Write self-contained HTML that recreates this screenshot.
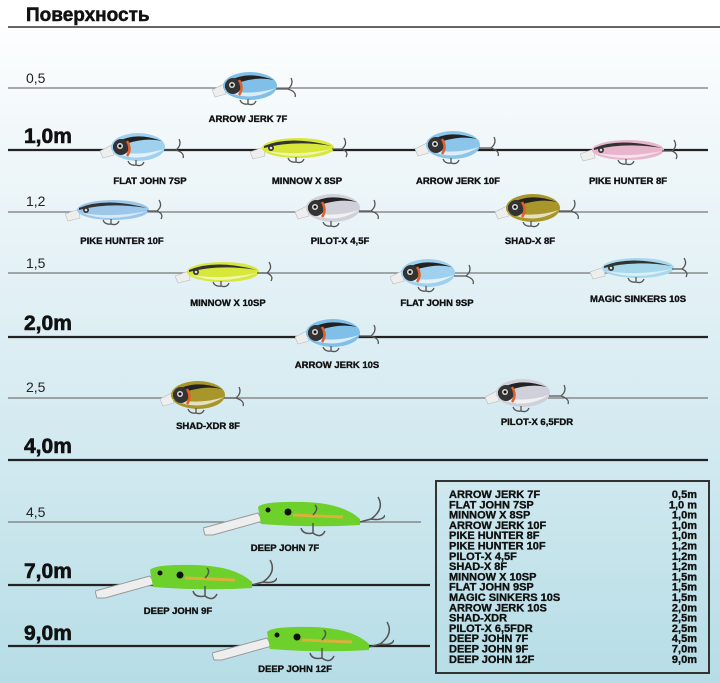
<!DOCTYPE html>
<html><head><meta charset="utf-8"><style>
html,body{margin:0;padding:0}
body{width:720px;height:683px;overflow:hidden;font-family:"Liberation Sans",sans-serif}
svg{display:block}
.lb{font:bold 9.5px "Liberation Sans",sans-serif;fill:#111;text-anchor:middle;stroke:#111;stroke-width:0.35}
.dm{font:bold 21px "Liberation Sans",sans-serif;fill:#111;stroke:#111;stroke-width:0.6}
.dn{font:14px "Liberation Sans",sans-serif;fill:#222}
.tb{font:bold 11px "Liberation Sans",sans-serif;fill:#111;stroke:#111;stroke-width:0.35}
</style></head><body>
<svg width="720" height="683" viewBox="0 0 720 683">
<defs>
<linearGradient id="bg" x1="0" y1="0" x2="0" y2="1">
<stop offset="0" stop-color="#ffffff"/><stop offset="0.25" stop-color="#eef6f9"/><stop offset="0.7" stop-color="#cfe8ef"/><stop offset="1" stop-color="#b6dde6"/>
</linearGradient>
<symbol id="crank" viewBox="0 0 90 36">
<polygon points="0,20 12,14 14,24 3,27" fill="#eee" stroke="#bbb" stroke-width="0.6"/>
<ellipse cx="38" cy="16" rx="27" ry="14" fill="currentColor"/>
<path d="M12,20 Q38,34 64,18 Q40,26 12,20 Z" fill="#fff" opacity="0.7"/>
<path d="M13,14 Q32,-1 62,10 Q40,5 13,18 Z" fill="#222"/>
<ellipse cx="21" cy="16" rx="8" ry="8" fill="#333"/>
<path d="M27,10 Q32,18 27,25" stroke="#e0602a" stroke-width="2.5" fill="none"/>
<circle cx="20" cy="15" r="3" fill="#ddd"/><circle cx="20" cy="15" r="1.5" fill="#111"/>
<path d="M64,19 L76,19 M76,19 Q82,14 79,8 M76,19 Q85,22 83,27 M36,29 L36,34 M36,34 Q30,35 28,30 M36,34 Q42,36 44,31" stroke="#555" stroke-width="1.3" fill="none"/>
</symbol>
<symbol id="minnow" viewBox="0 0 100 30">
<polygon points="0,18 14,13 15,22 3,25" fill="#eee" stroke="#bbb" stroke-width="0.6"/>
<ellipse cx="48" cy="14" rx="36" ry="10" fill="currentColor"/>
<path d="M16,17 Q48,28 82,15 Q48,22 16,17 Z" fill="#fff" opacity="0.6"/>
<path d="M14,12 Q40,1 82,12 Q45,6 14,14 Z" fill="#333"/>
<circle cx="21" cy="14" r="3" fill="#333"/><circle cx="21" cy="14" r="1.3" fill="#ddd"/>
<path d="M82,15 L92,15 M92,15 Q98,10 94,4 M92,15 Q99,18 96,23 M46,23 L46,28 M46,28 Q40,29 38,24 M46,28 Q52,30 54,25" stroke="#555" stroke-width="1.3" fill="none"/>
</symbol>
<symbol id="deep" viewBox="0 0 182 50">
<polygon points="0,33 55,18 60,26 10,40 2,40" fill="#eeeeee" stroke="#999" stroke-width="1"/>
<path d="M55,12 Q60,6 100,7 Q140,8 157,24 L157,30 Q110,33 58,29 Z" fill="#6ed02a"/>
<path d="M90,20 L140,22" stroke="#d8b23a" stroke-width="3"/>
<circle cx="65" cy="15" r="2.5" fill="#111"/><circle cx="85" cy="17" r="3.5" fill="#111"/>
<path d="M157,27 L168,24 M168,24 Q182,14 175,2 M168,24 Q180,26 182,20 M110,28 L110,38 M110,38 Q100,40 98,33 M110,38 Q118,44 122,36 M110,20 Q116,14 112,10" stroke="#555" stroke-width="1.5" fill="none"/>
</symbol>
</defs>
<rect width="720" height="683" fill="url(#bg)"/>
<rect width="720" height="27" fill="#fff"/>
<text x="26" y="21" style="font:bold 19px 'Liberation Sans',sans-serif;stroke:#111;stroke-width:0.5" fill="#111">Поверхность</text>
<line x1="8" y1="27" x2="720" y2="27" stroke="#333" stroke-width="1.5"/>

<g stroke-width="1.2" stroke="#777">
<line x1="8" y1="88" x2="708" y2="88"/>
<line x1="8" y1="212" x2="708" y2="212"/>
<line x1="8" y1="273" x2="708" y2="273"/>
<line x1="8" y1="398" x2="708" y2="398"/>
<line x1="8" y1="522" x2="421" y2="522"/>
</g>
<g stroke-width="2.2" stroke="#222">
<line x1="8" y1="150" x2="708" y2="150"/>
<line x1="8" y1="337" x2="708" y2="337"/>
<line x1="8" y1="460" x2="708" y2="460"/>
<line x1="8" y1="585" x2="430" y2="585"/>
<line x1="8" y1="646" x2="430" y2="646"/>
</g>

<text class="dn" x="26" y="83">0,5</text>
<text class="dm" x="24" y="143">1,0m</text>
<text class="dn" x="26" y="206">1,2</text>
<text class="dn" x="26" y="268">1,5</text>
<text class="dm" x="24" y="330">2,0m</text>
<text class="dn" x="26" y="392">2,5</text>
<text class="dm" x="24" y="453">4,0m</text>
<text class="dn" x="26" y="517">4,5</text>
<text class="dm" x="24" y="578">7,0m</text>
<text class="dm" x="24" y="640">9,0m</text>

<use href="#crank" x="212" y="70" width="90" height="36" style="color:#7fbfe8"/>
<use href="#crank" x="100" y="131" width="90" height="36" style="color:#9fd0ee"/>
<use href="#minnow" x="250" y="134" width="100" height="30" style="color:#d8e83a"/>
<use href="#crank" x="415" y="129" width="90" height="36" style="color:#8cc5ea"/>
<use href="#minnow" x="580" y="136" width="100" height="30" style="color:#e8b6cc"/>
<use href="#minnow" x="65" y="196" width="100" height="30" style="color:#9cc7ea"/>
<use href="#crank" x="295" y="192" width="90" height="36" style="color:#d0d0da"/>
<use href="#crank" x="495" y="192" width="90" height="36" style="color:#a8962a"/>
<use href="#minnow" x="175" y="258" width="100" height="30" style="color:#d8e83a"/>
<use href="#crank" x="390" y="257" width="90" height="36" style="color:#9fd0ee"/>
<use href="#minnow" x="590" y="254" width="100" height="30" style="color:#a8d8ec"/>
<use href="#crank" x="295" y="317" width="90" height="36" style="color:#7fbfe8"/>
<use href="#crank" x="160" y="379" width="90" height="36" style="color:#a8962a"/>
<use href="#crank" x="485" y="377" width="90" height="36" style="color:#d0d0da"/>
<use href="#deep" x="203" y="495" width="182" height="50"/>
<use href="#deep" x="95" y="558" width="182" height="50"/>
<use href="#deep" x="212" y="620" width="182" height="50"/>

<text class="lb" x="248" y="122">ARROW JERK 7F</text>
<text class="lb" x="150" y="184">FLAT JOHN 7SP</text>
<text class="lb" x="307" y="184">MINNOW X 8SP</text>
<text class="lb" x="458" y="184">ARROW JERK 10F</text>
<text class="lb" x="628" y="184">PIKE HUNTER 8F</text>
<text class="lb" x="122" y="244">PIKE HUNTER 10F</text>
<text class="lb" x="340" y="244">PILOT-X 4,5F</text>
<text class="lb" x="530" y="244">SHAD-X 8F</text>
<text class="lb" x="228" y="306">MINNOW X 10SP</text>
<text class="lb" x="437" y="306">FLAT JOHN 9SP</text>
<text class="lb" x="638" y="302">MAGIC SINKERS 10S</text>
<text class="lb" x="337" y="368">ARROW JERK 10S</text>
<text class="lb" x="208" y="429">SHAD-XDR 8F</text>
<text class="lb" x="537" y="425">PILOT-X 6,5FDR</text>
<text class="lb" x="285" y="551">DEEP JOHN 7F</text>
<text class="lb" x="178" y="614">DEEP JOHN 9F</text>
<text class="lb" x="295" y="672">DEEP JOHN 12F</text>

<rect x="436" y="481" width="273" height="192" fill="none" stroke="#333" stroke-width="2"/>
<g class="tb">
<text x="449" y="498">ARROW JERK 7F</text>
<text x="449" y="508.3">FLAT JOHN 7SP</text>
<text x="449" y="518.6">MINNOW X 8SP</text>
<text x="449" y="528.9">ARROW JERK 10F</text>
<text x="449" y="539.2">PIKE HUNTER 8F</text>
<text x="449" y="549.5">PIKE HUNTER 10F</text>
<text x="449" y="559.8">PILOT-X 4,5F</text>
<text x="449" y="570.1">SHAD-X 8F</text>
<text x="449" y="580.4">MINNOW X 10SP</text>
<text x="449" y="590.7">FLAT JOHN 9SP</text>
<text x="449" y="601">MAGIC SINKERS 10S</text>
<text x="449" y="611.3">ARROW JERK 10S</text>
<text x="449" y="621.6">SHAD-XDR</text>
<text x="449" y="631.9">PILOT-X 6,5FDR</text>
<text x="449" y="642.2">DEEP JOHN 7F</text>
<text x="449" y="652.5">DEEP JOHN 9F</text>
<text x="449" y="662.8">DEEP JOHN 12F</text>
</g>
<g class="tb" text-anchor="end">
<text x="697" y="498">0,5m</text>
<text x="697" y="508.3">1,0 m</text>
<text x="697" y="518.6">1,0m</text>
<text x="697" y="528.9">1,0m</text>
<text x="697" y="539.2">1,0m</text>
<text x="697" y="549.5">1,2m</text>
<text x="697" y="559.8">1,2m</text>
<text x="697" y="570.1">1,2m</text>
<text x="697" y="580.4">1,5m</text>
<text x="697" y="590.7">1,5m</text>
<text x="697" y="601">1,5m</text>
<text x="697" y="611.3">2,0m</text>
<text x="697" y="621.6">2,5m</text>
<text x="697" y="631.9">2,5m</text>
<text x="697" y="642.2">4,5m</text>
<text x="697" y="652.5">7,0m</text>
<text x="697" y="662.8">9,0m</text>
</g>
</svg>
</body></html>
